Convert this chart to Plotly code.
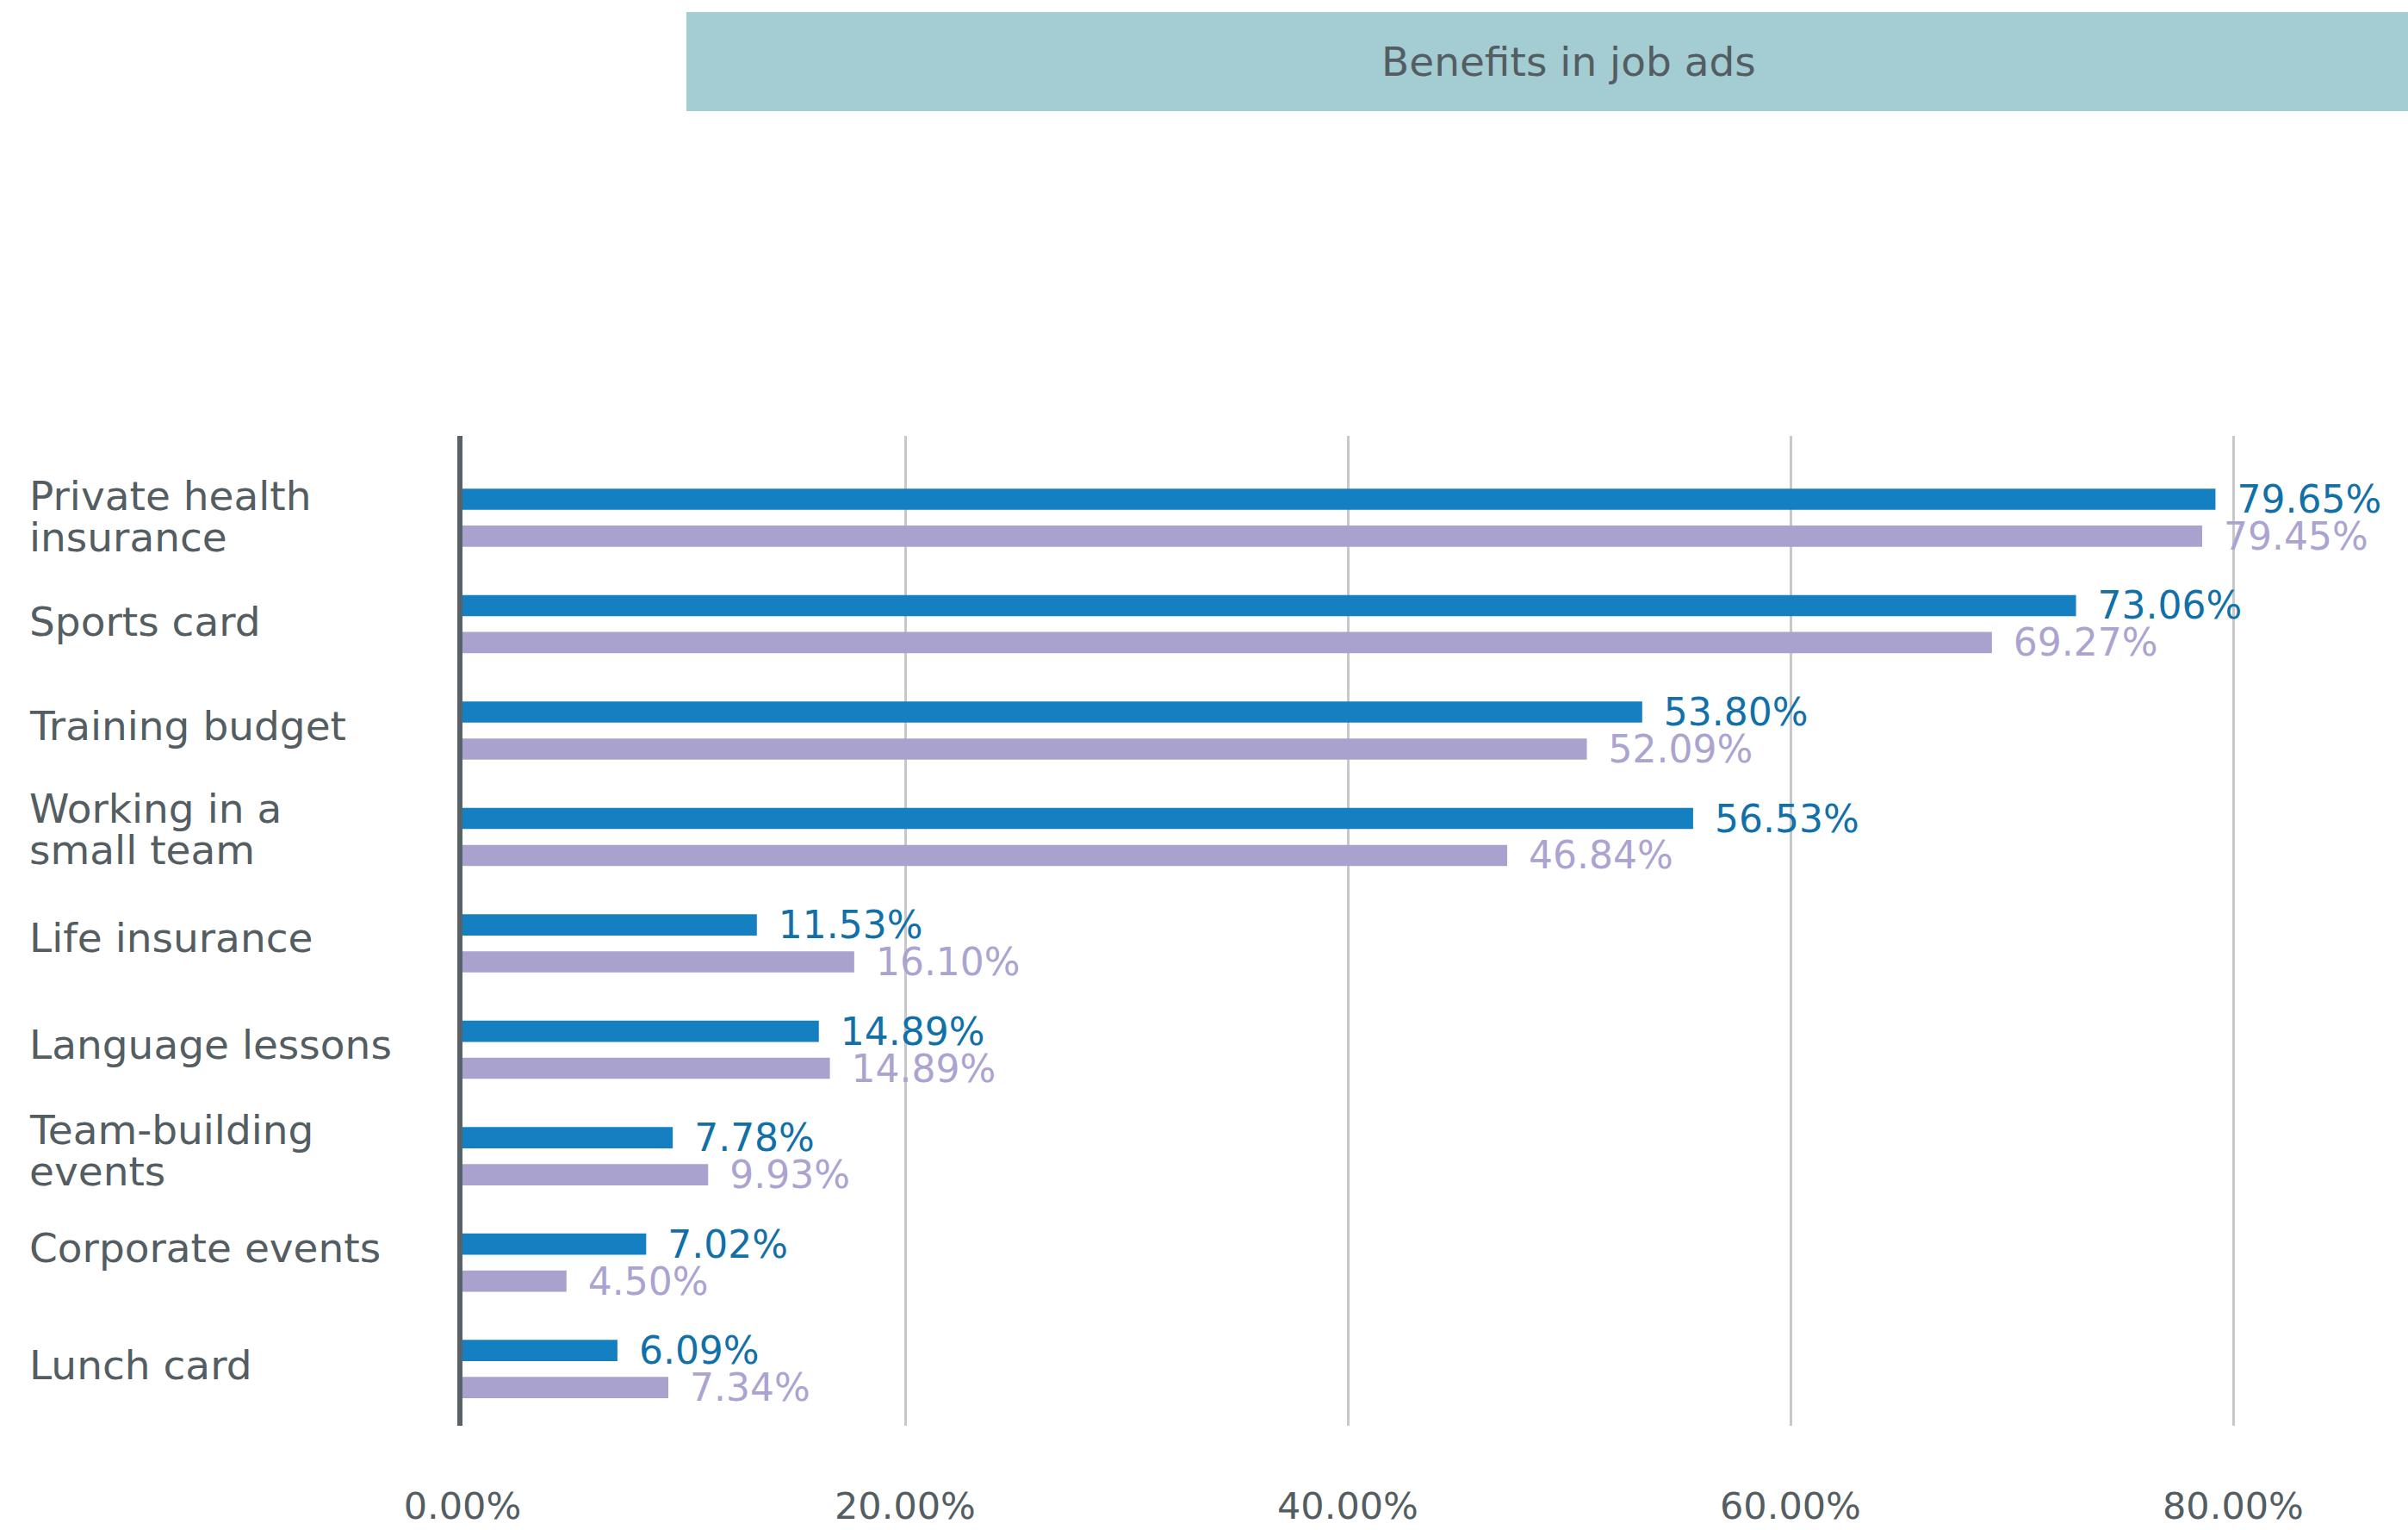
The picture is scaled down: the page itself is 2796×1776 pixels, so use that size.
import plotly.graph_objects as go

# ---- data ----
categories = ["Private health insurance", "Sports card", "Training budget",
              "Working in a small team", "Life insurance", "Language lessons",
              "Team-building events", "Corporate events", "Lunch card"]
category_lines = [["Private health", "insurance"], ["Sports card"], ["Training budget"],
                  ["Working in a", "small team"], ["Life insurance"], ["Language lessons"],
                  ["Team-building", "events"], ["Corporate events"], ["Lunch card"]]
# bar lengths as drawn in the picture (percent)
series_a_values = [79.2, 72.9, 53.3, 55.6, 13.3, 16.1, 9.5, 8.3, 7.0]
series_b_values = [78.6, 69.1, 50.8, 47.2, 17.7, 16.6, 11.1, 4.7, 9.3]
# value labels as printed in the picture
series_a_labels = ["79.65%", "73.06%", "53.80%", "56.53%", "11.53%", "14.89%", "7.78%", "7.02%", "6.09%"]
series_b_labels = ["79.45%", "69.27%", "52.09%", "46.84%", "16.10%", "14.89%", "9.93%", "4.50%", "7.34%"]
x_tick_values = [0, 20, 40, 60, 80]
x_tick_labels = ["0.00%", "20.00%", "40.00%", "60.00%", "80.00%"]
title_text = "Benefits in job ads"

# ---- layout constants ----
W, H = 2796, 1776
ML, MR, MT, MB = 537, 0, 506, 121
PW, PH = W - ML - MR, H - MT - MB
FONT = "DejaVu Sans"
GRAY = "#535D62"
BLUE = "#1480C2"
BLUE_TXT = "#1270A8"
PURPLE = "#AAA2CE"
PURPLE_TXT = "#ABA3D0"
PAD = "\u2002"
# vertical nudges (px) of the category labels
LABEL_NUDGE = [1, 3, 6, 9, 7, 6, 7, 17, 5]

fig = go.Figure()
fig.add_trace(go.Bar(
    y=categories, x=series_a_values, orientation="h", name="A",
    marker=dict(color=BLUE, line=dict(width=0)),
    text=[PAD + t for t in series_a_labels], textposition="outside",
    textangle=0, constraintext="none", cliponaxis=False,
    textfont=dict(family=FONT, size=44, color=BLUE_TXT),
    hoverinfo="skip"))
fig.add_trace(go.Bar(
    y=categories, x=series_b_values, orientation="h", name="B",
    marker=dict(color=PURPLE, line=dict(width=0)),
    text=[PAD + t for t in series_b_labels], textposition="outside",
    textangle=0, constraintext="none", cliponaxis=False,
    textfont=dict(family=FONT, size=44, color=PURPLE_TXT),
    hoverinfo="skip"))

annotations = []
label_x = (32 - ML) / PW
for cat, lines, nudge in zip(categories, category_lines, LABEL_NUDGE):
    n = len(lines)
    for i, line in enumerate(lines):
        shift = -((i - (n - 1) / 2) * 48) + nudge
        annotations.append(dict(
            x=label_x, xref="paper", y=cat, yref="y", yshift=shift,
            text=line, showarrow=False, xanchor="left", yanchor="middle",
            align="left", font=dict(family=FONT, size=47, color=GRAY)))

# title banner
bx0 = (797 - ML) / PW
by0 = (MT + PH - 129) / PH
by1 = (MT + PH - 14) / PH
annotations.append(dict(
    x=(1821 - ML) / PW, xref="paper", y=(MT + PH - 72) / PH, yref="paper",
    text=title_text, showarrow=False, xanchor="center", yanchor="middle",
    font=dict(family=FONT, size=47, color=GRAY)))

fig.update_layout(
    width=W, height=H,
    margin=dict(l=ML, r=MR, t=MT, b=MB, autoexpand=False),
    paper_bgcolor="white", plot_bgcolor="white",
    barmode="group", bargap=0.304, bargroupgap=0.425,
    showlegend=False,
    annotations=annotations,
    shapes=[dict(type="rect", xref="paper", yref="paper",
                 x0=bx0, x1=1.0, y0=by0, y1=by1,
                 fillcolor="#A3CDD3", line=dict(width=0), layer="below")],
    xaxis=dict(range=[0, PW / 25.7], tickvals=x_tick_values, ticktext=x_tick_labels,
               showgrid=True, gridcolor="#C6C8CA", gridwidth=3,
               zeroline=False, showline=False, ticks="",
               ticklabelstandoff=64, automargin=False,
               tickfont=dict(family=FONT, size=43, color=GRAY)),
    yaxis=dict(type="category", categoryorder="array", categoryarray=categories,
               range=[8.534, -0.769], showticklabels=False, showgrid=False,
               zeroline=False, showline=True, linecolor="#596269", linewidth=6,
               ticks="", automargin=False),
)

fig.write_html("out.html")
